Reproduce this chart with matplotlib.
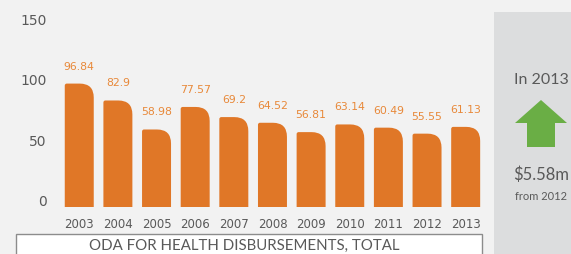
import matplotlib.pyplot as plt
from matplotlib.path import Path
from matplotlib.patches import PathPatch, Rectangle, Polygon

years = ["2003", "2004", "2005", "2006", "2007", "2008",
         "2009", "2010", "2011", "2012", "2013"]
values = [96.84, 82.9, 58.98, 77.57, 69.2, 64.52,
          56.81, 63.14, 60.49, 55.55, 61.13]
yticks = [0, 50, 100, 150]
title = "ODA FOR HEALTH DISBURSEMENTS, TOTAL"
side_year = "In 2013"
side_change = "$5.58m"
side_from = "from 2012"

W, H = 571, 254
BG = "#f2f2f2"
ORANGE = "#e07727"
LABEL = "#e8893a"
GREY = "#595959"

fig = plt.figure(figsize=(W / 100, H / 100), dpi=100, facecolor=BG)


def fx(px):
    return px / W


def fy(py):
    # py measured from the top of the image
    return 1 - py / H


# side panel
fig.patches.append(Rectangle((fx(494), 0), fx(W - 494), fy(12), transform=fig.transFigure,
                             facecolor="#dcddde", edgecolor="none", zorder=0))

ax = fig.add_axes([fx(58), fy(207), fx(485 - 58), fy(7) - fy(207)])
ax.set_facecolor(BG)
ymin = -4.95
ax.set_xlim(-0.55, 10.5)
ax.set_ylim(ymin, 160)

bars = ax.bar(range(len(years)), [v - ymin for v in values], bottom=ymin, width=0.75, color=ORANGE)

# rounded tops (mostly the right corner)
rx, ry = 14 / 38.7, 14 / 1.213
lx, ly = 2 / 38.7, 2 / 1.213
for rect, v in zip(bars, values):
    rect.set_visible(False)
    x0 = rect.get_x()
    x1 = x0 + rect.get_width()
    y0 = rect.get_y()
    top = y0 + rect.get_height()
    verts = [(x0, y0), (x1, y0), (x1, top - ry), (x1, top), (x1 - rx, top),
             (x0 + lx, top), (x0, top), (x0, top - ly), (x0, y0)]
    codes = [Path.MOVETO, Path.LINETO, Path.LINETO, Path.CURVE3, Path.CURVE3,
             Path.LINETO, Path.CURVE3, Path.CURVE3, Path.CLOSEPOLY]
    ax.add_patch(PathPatch(Path(verts, codes), facecolor=ORANGE, edgecolor="none"))
    ax.annotate(f"{v:g}", (rect.get_x() + rect.get_width() / 2, v), xytext=(0, 17),
                textcoords="offset pixels", ha="center", va="center",
                fontsize=7.8, color=LABEL)

ax.set_xticks(range(len(years)))
ax.set_xticklabels(years, fontsize=8.5, color=GREY)
ax.set_yticks(yticks)
ax.set_yticklabels([str(t) for t in yticks], fontsize=10, color=GREY)
ax.tick_params(length=0)
ax.tick_params(axis="x", pad=8)
ax.tick_params(axis="y", pad=8)
for s in ax.spines.values():
    s.set_visible(False)

# title box
fig.patches.append(Rectangle((fx(15.5), fy(262)), fx(482 - 15.5), fy(234) - fy(262),
                             transform=fig.transFigure, facecolor="white",
                             edgecolor="#8c8c8c", linewidth=1, zorder=1))
fig.text(fx(244), fy(246), title, ha="center", va="center", fontsize=10.8,
         color=GREY, family="Lato", zorder=2)

# side panel content
fig.text(fx(541), fy(80), side_year, ha="center", va="center", fontsize=11.5,
         color=GREY, family="Lato")
arrow = [(515, 123), (541, 100), (567, 123), (555, 123), (555, 147),
         (527, 147), (527, 123)]
fig.patches.append(Polygon([(fx(a), fy(b)) for a, b in arrow], closed=True,
                           transform=fig.transFigure, facecolor="#6aae45",
                           edgecolor="none"))
fig.text(fx(541), fy(175), side_change, ha="center", va="center", fontsize=12,
         color=GREY, family="Lato")
fig.text(fx(541), fy(196), side_from, ha="center", va="center", fontsize=8,
         color=GREY, family="Lato")

fig.savefig("out.png", dpi=100, facecolor=BG)
